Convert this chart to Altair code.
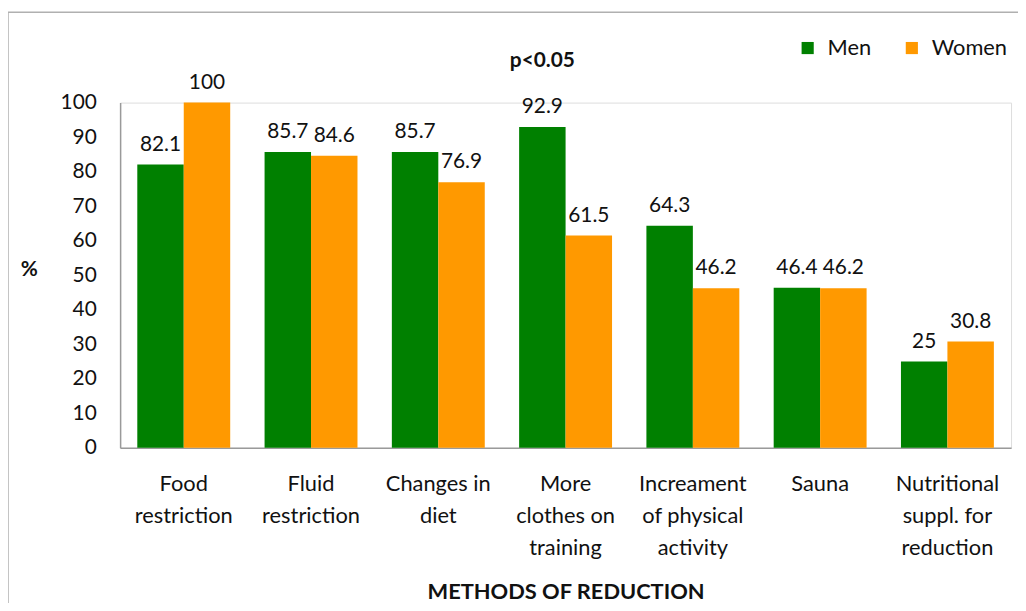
import altair as alt
import pandas as pd

categories = ["Food|restriction", "Fluid|restriction", "Changes in|diet",
              "More|clothes on|training", "Increament|of physical|activity",
              "Sauna", "Nutritional|suppl. for|reduction"]
men = [82.1, 85.7, 85.7, 92.9, 64.3, 46.4, 25]
women = [100, 84.6, 76.9, 61.5, 46.2, 46.2, 30.8]
groups = ["Men", "Women"]
colors = ["#008000", "#FF9900"]
yticks = [0, 10, 20, 30, 40, 50, 60, 70, 80, 90, 100]

rows = []
for c, m, w in zip(categories, men, women):
    rows.append({"method": c, "sex": "Men", "value": m, "label": f"{m:g}"})
    rows.append({"method": c, "sex": "Women", "value": w, "label": f"{w:g}"})
df = pd.DataFrame(rows)

FONT = "Lato"

x = alt.X("method:N", sort=categories,
          scale=alt.Scale(paddingInner=0.27, paddingOuter=0.135),
          axis=alt.Axis(title="METHODS OF REDUCTION", labelExpr="split(datum.label, '|')",
                        labelAngle=0, labelFontSize=22, labelLineHeight=32,
                        labelPadding=26, labelColor="#111111", labelFont=FONT,
                        ticks=False, domainColor="#9a9a9a", domainWidth=1.5,
                        labelOverlap=False,
                        titleFont=FONT, titleFontSize=22, titleFontWeight="bold",
                        titlePadding=24, titleColor="#111111"))
y = alt.Y("value:Q", scale=alt.Scale(domain=[0, 100], nice=False),
          axis=alt.Axis(title="%", values=yticks, tickCount=11, grid=False,
                        ticks=False, labelFontSize=21, labelPadding=24,
                        labelOverlap=False, labelSeparation=0,
                        labelColor="#111111", labelFont=FONT,
                        domainColor="#9a9a9a", domainWidth=1.5,
                        titleAngle=0, titleFont=FONT, titleFontSize=21,
                        titleFontWeight="bold", titleX=-92, titleY=178,
                        titleColor="#111111"))
xo = alt.XOffset("sex:N", sort=groups)

bars = alt.Chart(df).mark_bar().encode(
    x=x, y=y, xOffset=xo,
    color=alt.Color("sex:N", sort=groups, scale=alt.Scale(domain=groups, range=colors),
                    legend=alt.Legend(title=None, orient="none", legendX=682, legendY=-66,
                                      direction="horizontal", symbolType="square",
                                      symbolSize=150, symbolStrokeWidth=0,
                                      labelFontSize=22, labelFont=FONT, labelOffset=9,
                                      labelColor="#111111", columnPadding=30,
                                      symbolOpacity=1))
)

labels = alt.Chart(df).mark_text(baseline="bottom", dy=-10, fontSize=21, font=FONT,
                                 color="#111111").encode(
    x=x, xOffset=xo, y=y, text="label:N")

pdf = pd.DataFrame({"method": [categories[3]], "sex": ["Men"], "value": [112], "t": ["p<0.05"]})
ptext = alt.Chart(pdf).mark_text(fontSize=21, fontWeight="bold", font=FONT,
                                 color="#111111").encode(
    x=x, xOffset=xo, y=y, text="t:N")

frame_top = alt.Chart(pd.DataFrame({"a": [0]})).mark_rule(color="#b0b0b0", strokeWidth=1.5).encode(
    x=alt.value(-113), x2=alt.value(905), y=alt.value(-91))
frame_left = alt.Chart(pd.DataFrame({"a": [0]})).mark_rule(color="#b0b0b0", strokeWidth=1.5).encode(
    x=alt.value(-113), y=alt.value(-91), y2=alt.value(520))

chart = alt.layer(bars, labels, ptext, frame_top, frame_left).properties(
    width=898, height=348,
    autosize=alt.AutoSizeParams(type="none"),
    padding={"left": 113, "top": 93, "right": 7, "bottom": 154},
).configure_view(stroke=None).configure(background="white")

chart.save("out.html", embed_options={"renderer": "svg", "actions": False})
